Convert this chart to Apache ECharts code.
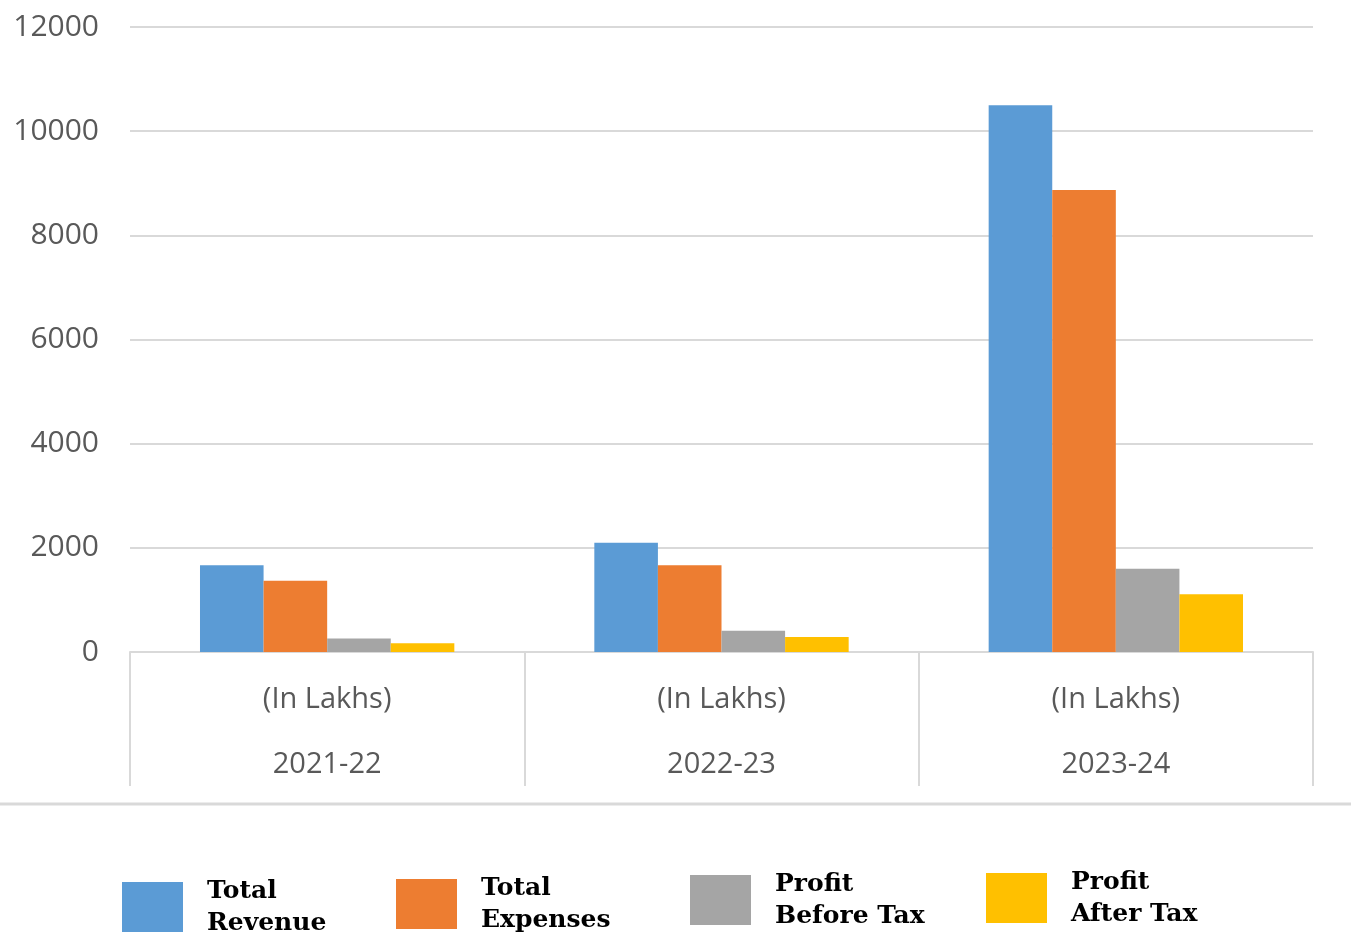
<!DOCTYPE html>
<html>
<head>
<meta charset="utf-8">
<script src="https://cdn.jsdelivr.net/npm/echarts@6/dist/echarts.min.js"></script>
<style>
html,body{margin:0;padding:0;background:#fff;}
#chart{width:1351px;height:932px;}
</style>
</head>
<body>
<div id="chart"></div>
<script>
const categories = ['2021-22', '2022-23', '2023-24'];
const unitLabel = '(In Lakhs)';
const seriesNames = ['Total\nRevenue', 'Total\nExpenses', 'Profit\nBefore Tax', 'Profit\nAfter Tax'];
const totalRevenue = [1665, 2100, 10500];
const totalExpenses = [1370, 1665, 8870];
const profitBeforeTax = [260, 410, 1600];
const profitAfterTax = [170, 290, 1110];
const colors = ['#5b9bd5', '#ed7d31', '#a5a5a5', '#ffc000'];

const chart = echarts.init(document.getElementById('chart'), null, {renderer: 'canvas'});
const values = [totalRevenue, totalExpenses, profitBeforeTax, profitAfterTax];
const legendLeft = [117, 391, 685, 981];
const legendTop = [870, 867, 863, 861];

const option = {
  animation: false,
  backgroundColor: '#fff',
  grid: {left: 130, right: 38, top: 27, bottom: 280, containLabel: false},
  legend: seriesNames.map((n, i) => ({
    data: [n],
    left: legendLeft[i],
    top: legendTop[i],
    orient: 'horizontal',
    itemWidth: 61,
    itemHeight: 50,
    itemGap: 0,
    icon: 'rect',
    textStyle: {
      fontFamily: 'DejaVu Serif',
      fontWeight: 'bold',
      fontSize: 25,
      color: '#000',
      lineHeight: 32,
      padding: [0, 0, 0, 19]
    }
  })),
  xAxis: {
    type: 'category',
    data: categories,
    axisLine: {lineStyle: {color: '#d9d9d9', width: 2}},
    axisTick: {show: true, length: 134, lineStyle: {color: '#d9d9d9', width: 2}},
    axisLabel: {
      margin: 15,
      formatter: v => '{a|' + unitLabel + '}\n{b|' + v + '}',
      rich: {
        a: {fontFamily: 'Open Sans', fontSize: 29, color: '#595959', lineHeight: 65},
        b: {fontFamily: 'Open Sans', fontSize: 29, color: '#595959', lineHeight: 65}
      }
    }
  },
  yAxis: {
    type: 'value',
    min: 0,
    max: 12000,
    interval: 2000,
    axisLine: {show: false},
    axisTick: {show: false},
    splitLine: {lineStyle: {color: '#d9d9d9', width: 2}},
    axisLabel: {fontFamily: 'Open Sans', fontSize: 30, color: '#595959', margin: 31, formatter: v => String(v)}
  },
  series: seriesNames.map((n, i) => ({
    name: n,
    type: 'bar',
    data: values[i],
    barGap: '0%',
    barCategoryGap: '35.5%',
    itemStyle: {color: colors[i]}
  })),
  graphic: [{
    type: 'line',
    shape: {x1: 0, y1: 804, x2: 1351, y2: 804},
    style: {stroke: '#d9d9d9', lineWidth: 3}
  }]
};
chart.setOption(option);
</script>
</body>
</html>
